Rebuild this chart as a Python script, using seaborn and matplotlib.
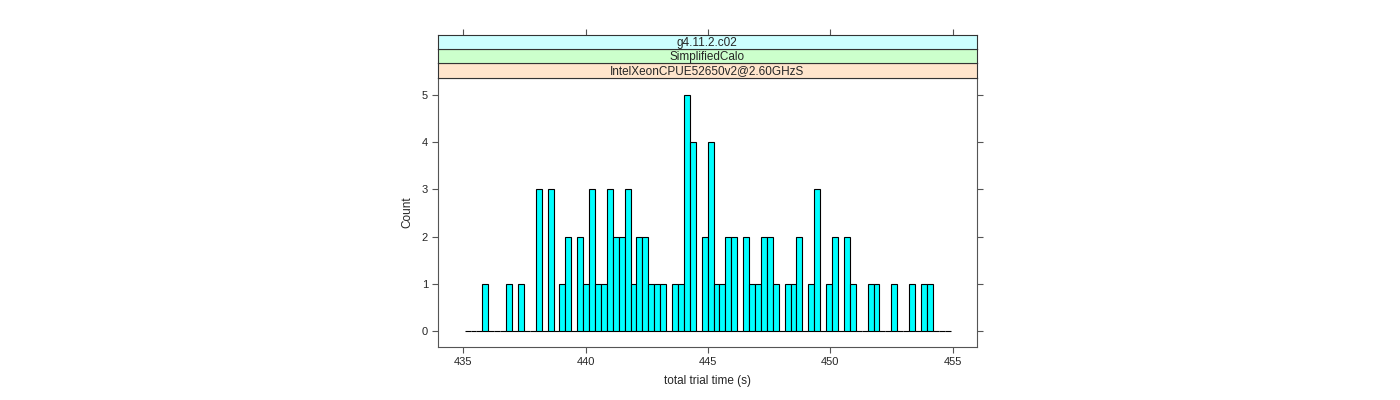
import numpy as np
import pandas as pd
import matplotlib
matplotlib.use("Agg")
import matplotlib.pyplot as plt
import seaborn as sns

# histogram breaks (lattice shares them over all panels)
break_lo = 435.05
break_hi = 454.91
n_bins = 82

counts = [0, 0, 0, 1, 0, 0, 0, 1, 0, 1,
          0, 0, 3, 0, 3, 0, 1, 2, 0, 2,
          1, 3, 1, 1, 3, 2, 2, 3, 1, 2,
          2, 1, 1, 1, 0, 1, 1, 5, 4, 0,
          2, 4, 1, 1, 2, 2, 0, 2, 1, 1,
          2, 2, 1, 0, 1, 1, 2, 0, 1, 3,
          0, 1, 2, 0, 2, 1, 0, 0, 1, 1,
          0, 0, 1, 0, 0, 1, 0, 1, 1, 0,
          0, 0]

strip_labels = ["IntelXeonCPUE52650v2@2.60GHzS", "SimplifiedCalo", "g4.11.2.c02"]
strip_colors = ["#ffe5cc", "#ccffcc", "#ccffff"]
x_ticks = [435, 440, 445, 450, 455]
y_ticks = [0, 1, 2, 3, 4, 5]

sns.set_style("white")
plt.rcParams["font.family"] = ["Liberation Sans", "DejaVu Sans"]

breaks = np.linspace(break_lo, break_hi, n_bins + 1)
df = pd.DataFrame({"t": (breaks[:-1] + breaks[1:]) / 2, "n": counts})

W, H = 1400, 400
fig = plt.figure(figsize=(W / 100, H / 100), dpi=100)

panel_l, panel_r = 437.7, 977
panel_t, panel_b = 78, 347
ax = fig.add_axes([panel_l / W, 1 - panel_b / H, (panel_r - panel_l) / W, (panel_b - panel_t) / H])

sns.histplot(data=df, x="t", weights="n", bins=n_bins, binrange=(break_lo, break_hi),
             stat="count", color="#00ffff", edgecolor="black", linewidth=0.8, alpha=1,
             ax=ax)

xlim = (433.95, 455.99)
ax.set_xlim(*xlim)
ax.set_ylim(-0.33, 5.35)
ax.set_xticks(x_ticks)
ax.set_yticks(y_ticks)
ax.tick_params(axis="both", direction="out", length=4, width=0.8, color="#555555",
               labelsize=8, pad=3, right=True, bottom=True, left=True)
ax.tick_params(axis="y", labelright=False)
for s in ax.spines.values():
    s.set_color("#555555")
    s.set_linewidth(0.8)
ax.set_xlabel("total trial time (s)", fontsize=8.5, labelpad=6)
ax.set_ylabel("Count", fontsize=8.5, labelpad=6)

# strips
strip_edges = [78, 63.3, 49.3, 34.7]
for i, (lab, col) in enumerate(zip(strip_labels, strip_colors)):
    b, t = strip_edges[i], strip_edges[i + 1]
    sax = fig.add_axes([panel_l / W, 1 - b / H, (panel_r - panel_l) / W, (b - t) / H])
    sax.set_facecolor(col)
    sax.set_xlim(*xlim)
    sax.set_yticks([])
    for s in sax.spines.values():
        s.set_color("#333333")
        s.set_linewidth(0.8)
    sax.text(0.5, 0.45, lab, transform=sax.transAxes, ha="center", va="center", fontsize=8.5)
    if i == len(strip_labels) - 1:
        sax.set_xticks(x_ticks)
        sax.tick_params(axis="x", bottom=False, top=True, labelbottom=False,
                        direction="out", length=4, width=0.8, color="#555555")
    else:
        sax.set_xticks([])

fig.savefig("out.png", dpi=100)
